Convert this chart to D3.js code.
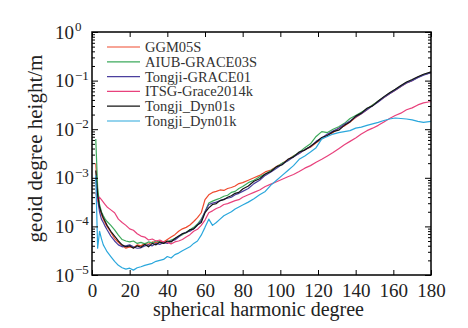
<!DOCTYPE html>
<html>
<head>
<meta charset="utf-8">
<script src="https://cdn.jsdelivr.net/npm/d3@7"></script>
<style>
  body { margin: 0; background: #fff; }
  svg { display: block; }
  .tick line { stroke: #000; }
  .domain { stroke: none; }
</style>
</head>
<body>
<svg width="468" height="328"></svg>
<script>
// spherical harmonic degree (shared by all series)
const degrees = [2,3,4,5,6,7,8,10,12,14,16,18,20,22,24,26,28,30,32,34,36,38,40,42,44,46,48,50,52,54,56,58,60,62,64,66,68,70,72,74,76,78,80,83,86,89,92,95,98,101,104,107,110,113,116,119,122,125,128,131,134,137,140,143,146,149,152,155,158,161,164,167,170,173,176,180];

const ggm05s = [2.00e-3,5.01e-4,2.40e-4,1.78e-4,1.41e-4,1.17e-4,1.00e-4,7.59e-5,5.62e-5,4.68e-5,3.98e-5,3.55e-5,3.80e-5,3.63e-5,4.17e-5,3.98e-5,4.47e-5,4.27e-5,4.79e-5,4.57e-5,5.01e-5,4.79e-5,5.37e-5,6.03e-5,6.76e-5,7.94e-5,8.91e-5,9.55e-5,1.07e-4,1.26e-4,1.51e-4,1.91e-4,3.55e-4,4.47e-4,5.01e-4,5.25e-4,5.62e-4,5.50e-4,6.03e-4,6.31e-4,6.76e-4,7.59e-4,7.94e-4,8.91e-4,1.00e-3,1.12e-3,1.32e-3,1.45e-3,1.70e-3,2.00e-3,2.34e-3,2.82e-3,3.16e-3,3.80e-3,4.27e-3,5.25e-3,6.31e-3,7.59e-3,8.51e-3,1.05e-2,1.17e-2,1.41e-2,1.74e-2,2.09e-2,2.51e-2,3.16e-2,3.72e-2,4.47e-2,5.37e-2,6.31e-2,7.59e-2,8.91e-2,1.00e-1,1.17e-1,1.32e-1,1.45e-1];

const aiub = [6.31e-3,6.31e-4,2.82e-4,2.00e-4,1.66e-4,1.41e-4,1.26e-4,1.05e-4,8.51e-5,6.61e-5,5.37e-5,5.01e-5,4.79e-5,5.01e-5,4.47e-5,4.68e-5,4.37e-5,4.79e-5,4.57e-5,5.01e-5,4.68e-5,4.47e-5,4.79e-5,5.25e-5,5.62e-5,6.17e-5,6.76e-5,7.59e-5,8.51e-5,9.55e-5,1.12e-4,1.41e-4,2.00e-4,3.02e-4,3.31e-4,3.55e-4,3.80e-4,4.17e-4,4.37e-4,5.01e-4,5.25e-4,6.03e-4,6.61e-4,7.94e-4,8.91e-4,1.05e-3,1.20e-3,1.41e-3,1.66e-3,2.00e-3,2.24e-3,2.82e-3,3.31e-3,4.17e-3,5.01e-3,7.08e-3,8.91e-3,8.51e-3,1.00e-2,1.12e-2,1.32e-2,1.66e-2,1.91e-2,2.24e-2,2.63e-2,3.16e-2,3.80e-2,4.57e-2,5.50e-2,6.46e-2,7.76e-2,9.12e-2,1.02e-1,1.17e-1,1.32e-1,1.48e-1];

const tongjiGrace = [1.00e-3,3.55e-4,2.00e-4,1.41e-4,1.20e-4,1.00e-4,8.51e-5,6.31e-5,5.01e-5,4.17e-5,3.80e-5,3.98e-5,4.17e-5,3.80e-5,3.55e-5,3.63e-5,3.98e-5,4.17e-5,3.98e-5,4.47e-5,4.27e-5,4.68e-5,4.47e-5,5.01e-5,5.25e-5,6.03e-5,7.08e-5,7.59e-5,7.94e-5,8.91e-5,1.07e-4,1.32e-4,2.00e-4,2.82e-4,3.02e-4,3.16e-4,3.39e-4,3.63e-4,3.80e-4,3.98e-4,4.47e-4,4.79e-4,5.25e-4,6.03e-4,7.59e-4,8.91e-4,1.12e-3,1.32e-3,1.58e-3,1.91e-3,2.24e-3,2.69e-3,3.16e-3,3.80e-3,4.37e-3,5.62e-3,6.61e-3,7.94e-3,9.12e-3,1.05e-2,1.26e-2,1.48e-2,1.78e-2,2.09e-2,2.51e-2,3.02e-2,3.63e-2,4.47e-2,5.37e-2,6.31e-2,7.59e-2,8.91e-2,1.00e-1,1.15e-1,1.29e-1,1.45e-1];

const itsg = [5.01e-4,3.31e-4,3.98e-4,3.55e-4,3.16e-4,2.82e-4,2.51e-4,2.19e-4,1.91e-4,1.41e-4,1.20e-4,1.05e-4,8.91e-5,8.32e-5,7.08e-5,6.31e-5,6.03e-5,5.25e-5,5.50e-5,5.01e-5,5.25e-5,4.79e-5,4.68e-5,4.37e-5,4.79e-5,5.01e-5,5.37e-5,6.03e-5,6.76e-5,7.94e-5,8.71e-5,1.05e-4,1.35e-4,1.91e-4,2.09e-4,2.34e-4,2.51e-4,2.82e-4,2.95e-4,3.16e-4,3.39e-4,3.55e-4,3.98e-4,4.47e-4,5.01e-4,5.62e-4,6.61e-4,7.41e-4,8.32e-4,9.33e-4,1.05e-3,1.17e-3,1.35e-3,1.58e-3,1.78e-3,2.09e-3,2.40e-3,2.82e-3,3.31e-3,3.98e-3,4.79e-3,5.62e-3,6.61e-3,7.94e-3,9.33e-3,1.05e-2,1.20e-2,1.41e-2,1.66e-2,1.91e-2,2.14e-2,2.51e-2,2.75e-2,3.16e-2,3.47e-2,3.72e-2];

const dyn01s = [1.41e-3,4.47e-4,2.51e-4,1.91e-4,1.51e-4,1.26e-4,1.05e-4,7.94e-5,6.31e-5,5.01e-5,4.17e-5,3.80e-5,3.98e-5,3.55e-5,3.98e-5,3.72e-5,4.27e-5,3.80e-5,4.47e-5,4.17e-5,4.79e-5,4.47e-5,5.01e-5,4.79e-5,5.62e-5,6.31e-5,7.08e-5,7.41e-5,8.51e-5,8.91e-5,1.07e-4,1.20e-4,1.91e-4,2.40e-4,2.82e-4,2.95e-4,3.39e-4,3.55e-4,3.98e-4,4.27e-4,4.79e-4,5.01e-4,5.89e-4,6.76e-4,8.51e-4,9.55e-4,1.20e-3,1.35e-3,1.70e-3,1.86e-3,2.40e-3,2.69e-3,3.39e-3,3.72e-3,4.47e-3,5.37e-3,6.76e-3,7.41e-3,8.91e-3,9.55e-3,1.20e-2,1.41e-2,1.86e-2,2.14e-2,2.69e-2,3.02e-2,3.80e-2,4.68e-2,5.62e-2,6.61e-2,7.94e-2,9.33e-2,1.05e-1,1.20e-1,1.35e-1,1.51e-1];

const dyn01k = [1.12e-3,3.55e-5,7.94e-5,5.62e-5,4.17e-5,3.55e-5,3.02e-5,2.40e-5,1.91e-5,1.58e-5,1.41e-5,1.32e-5,1.38e-5,1.26e-5,1.41e-5,1.48e-5,1.58e-5,1.66e-5,1.74e-5,1.91e-5,2.00e-5,2.09e-5,2.40e-5,2.24e-5,2.63e-5,2.82e-5,3.16e-5,3.47e-5,3.80e-5,4.47e-5,5.01e-5,6.61e-5,9.55e-5,1.41e-4,1.05e-4,1.20e-4,1.41e-4,1.66e-4,1.82e-4,2.00e-4,2.29e-4,2.51e-4,2.75e-4,3.16e-4,3.72e-4,4.47e-4,5.25e-4,7.08e-4,8.91e-4,1.12e-3,1.41e-3,1.78e-3,2.40e-3,2.82e-3,3.39e-3,4.17e-3,6.31e-3,7.08e-3,7.94e-3,8.51e-3,8.91e-3,9.33e-3,1.05e-2,1.10e-2,1.20e-2,1.29e-2,1.38e-2,1.51e-2,1.62e-2,1.70e-2,1.66e-2,1.62e-2,1.55e-2,1.45e-2,1.38e-2,1.45e-2];

const seriesNames = ['GGM05S', 'AIUB-GRACE03S', 'Tongji-GRACE01', 'ITSG-Grace2014k', 'Tongji_Dyn01s', 'Tongji_Dyn01k'];
const seriesValues = [ggm05s, aiub, tongjiGrace, itsg, dyn01s, dyn01k];
const seriesColors = ['#ef4a2e', '#3daa5c', '#4b3f9e', '#e8417c', '#151515', '#2aa7dc'];

const xTicks = [0, 20, 40, 60, 80, 100, 120, 140, 160, 180];
const yExponents = [0, -1, -2, -3, -4, -5];

const svg = d3.select('svg');
const margin = { top: 32, right: 37, bottom: 53, left: 92 };
const width = +svg.attr('width');
const height = +svg.attr('height');
const innerWidth = width - margin.left - margin.right;
const innerHeight = height - margin.top - margin.bottom;
const font = '"Liberation Serif", "Times New Roman", serif';

const xScale = d3.scaleLinear().domain([0, 180]).range([0, innerWidth]);
const yScale = d3.scaleLog().domain([1e-5, 1]).range([innerHeight, 0]);

const g = svg.append('g')
    .attr('transform', `translate(${margin.left},${margin.top})`);

// lines
const line = d3.line()
    .x((d, i) => xScale(degrees[i]))
    .y(d => yScale(d));

seriesValues.forEach((vals, i) => {
    g.append('path')
        .datum(vals)
        .attr('fill', 'none')
        .attr('stroke', seriesColors[i])
        .attr('stroke-width', 1.2)
        .attr('stroke-linejoin', 'round')
        .attr('d', line);
});

// minor log ticks
const minorTicks = [];
for (let e = -5; e < 0; e++) {
    for (let m = 2; m <= 9; m++) minorTicks.push(m * Math.pow(10, e));
}
const majorTicks = yExponents.map(e => Math.pow(10, e));

// tick-only axis: drop the empty label nodes
const ticksOnly = (sel, axis) => {
    sel.call(axis.tickFormat(''));
    sel.selectAll('text').remove();
};

// x axes (ticks inward)
g.append('g')
    .attr('transform', `translate(0,${innerHeight})`)
    .call(d3.axisBottom(xScale).tickValues(xTicks).tickSizeInner(-5).tickSizeOuter(0).tickPadding(9))
    .selectAll('text')
    .style('font-family', font)
    .style('font-size', '19px')
    .attr('fill', '#222');

ticksOnly(g.append('g'), d3.axisTop(xScale).tickValues(xTicks).tickSizeInner(-5).tickSizeOuter(0));

// y axes
ticksOnly(g.append('g'), d3.axisLeft(yScale).tickValues(majorTicks).tickSizeInner(-6).tickSizeOuter(0));
ticksOnly(g.append('g'), d3.axisLeft(yScale).tickValues(minorTicks).tickSizeInner(-3).tickSizeOuter(0));
ticksOnly(g.append('g').attr('transform', `translate(${innerWidth},0)`),
    d3.axisRight(yScale).tickValues(majorTicks).tickSizeInner(-6).tickSizeOuter(0));
ticksOnly(g.append('g').attr('transform', `translate(${innerWidth},0)`),
    d3.axisRight(yScale).tickValues(minorTicks).tickSizeInner(-3).tickSizeOuter(0));

// y tick labels 10^n
yExponents.forEach(e => {
    const y = yScale(Math.pow(10, e));
    const t = g.append('text')
        .attr('x', -37)
        .attr('y', y + 6.5)
        .attr('fill', '#222')
        .style('font-family', font)
        .style('font-size', '19px');
    t.append('tspan').text('10');
    t.append('tspan')
        .attr('dx', 1)
        .attr('dy', -7.5)
        .style('font-size', '13px')
        .text(e === 0 ? '0' : '\u2212' + (-e));
});

// frame
g.append('rect')
    .attr('width', innerWidth)
    .attr('height', innerHeight)
    .attr('fill', 'none')
    .attr('stroke', '#000')
    .attr('stroke-width', 1.5);

// axis labels
g.append('text')
    .attr('x', innerWidth / 2 - 3)
    .attr('y', innerHeight + 41)
    .attr('text-anchor', 'middle')
    .attr('fill', '#222')
    .style('font-family', font)
    .style('font-size', '20px')
    .text('spherical harmonic degree');

g.append('text')
    .attr('transform', 'rotate(-90)')
    .attr('x', -innerHeight / 2 + 5)
    .attr('y', -50)
    .attr('text-anchor', 'middle')
    .attr('fill', '#222')
    .style('font-family', font)
    .style('font-size', '21px')
    .text('geoid degree height/m');

// legend
const legend = g.append('g').attr('transform', 'translate(15,15)');
seriesNames.forEach((name, i) => {
    const row = legend.append('g').attr('transform', `translate(0,${i * 14.8})`);
    row.append('line')
        .attr('x1', 0).attr('x2', 33)
        .attr('stroke', seriesColors[i])
        .attr('stroke-width', 1.2);
    row.append('text')
        .attr('x', 38)
        .attr('y', 5)
        .attr('fill', '#333')
        .style('font-family', font)
        .style('font-size', '14.5px')
        .text(name);
});
</script>
</body>
</html>
